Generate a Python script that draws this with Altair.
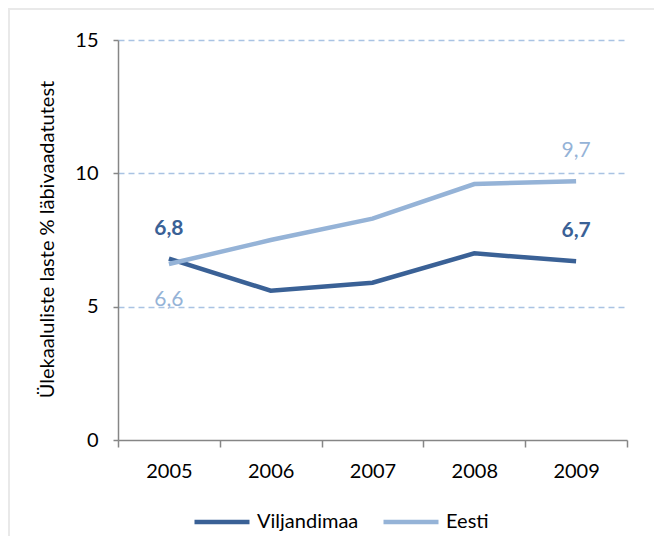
import altair as alt
import pandas as pd

years = ["2005", "2006", "2007", "2008", "2009"]
viljandimaa = [6.8, 5.6, 5.9, 7.0, 6.7]
eesti = [6.6, 7.5, 8.3, 9.6, 9.7]
series_names = ["Viljandimaa", "Eesti"]
series_colors = ["#3A6196", "#95B3D7"]
y_ticks = [0, 5, 10, 15]
y_title = "Ülekaaluliste laste % läbivaadatutest"

FONT = "Lato"

rows = []
for name, vals in zip(series_names, [viljandimaa, eesti]):
    for yr, v in zip(years, vals):
        rows.append({"series": name, "year": yr, "value": v,
                     "label": f"{v:.1f}".replace(".", ",")})
df = pd.DataFrame(rows)

W, H = 509, 400
PAD_L, PAD_T, PAD_R, PAD_B = 110, 32, 27, 96

x_enc = alt.X("year:O", title=None,
              scale=alt.Scale(type="band", paddingInner=0, paddingOuter=0),
              axis=alt.Axis(labelAngle=0, labelFont=FONT, labelFontSize=20,
                            labelColor="#000000", labelPadding=14,
                            domainColor="#868686", domainWidth=1.5,
                            tickColor="#868686", tickWidth=1.5, tickSize=7,
                            tickBand="extent", grid=False, zindex=1))
y_enc = alt.Y("value:Q",
              scale=alt.Scale(domain=[0, 15], nice=False, zero=True),
              axis=alt.Axis(values=y_ticks, title=y_title,
                            titleFont=FONT, titleFontSize=20, titleFontWeight="normal",
                            titleColor="#000000", titleAngle=-90,
                            titleAlign="center", titleBaseline="alphabetic",
                            titleX=-65, titleY=199,
                            labelFont=FONT, labelFontSize=20, labelColor="#000000",
                            labelPadding=15,
                            domainColor="#868686", domainWidth=1.5,
                            tickColor="#868686", tickWidth=1.5, tickSize=5,
                            grid=True, gridColor="#A9C3E3", gridWidth=1.5,
                            gridDash=[6, 4],
                            gridOpacity=alt.condition("datum.value == 0",
                                                      alt.value(0), alt.value(1)),
                            zindex=1))

color_enc = alt.Color("series:N",
                      scale=alt.Scale(domain=series_names, range=series_colors),
                      legend=alt.Legend(title=None, orient="none",
                                        legendX=74, legendY=452,
                                        direction="horizontal", columns=2,
                                        symbolType="stroke", symbolSize=3025,
                                        symbolStrokeWidth=4.5, labelFont=FONT,
                                        labelFontSize=20, labelColor="#000000",
                                        labelOffset=5, columnPadding=15,
                                        padding=0, labelLimit=300))

bg = alt.Chart(pd.DataFrame({"a": [0]})).mark_rect(color="white").encode(
    x=alt.value(-108), x2=alt.value(W + PAD_R),
    y=alt.value(-30), y2=alt.value(H + PAD_B))

lines = alt.Chart(df).mark_line(strokeWidth=4.5).encode(
    x=x_enc, y=y_enc, color=color_enc,
    order=alt.Order("year:O"))

vil_lab = df[(df.series == "Viljandimaa") & (df.year.isin([years[0], years[-1]]))]
ee_first = df[(df.series == "Eesti") & (df.year == years[0])]
ee_last = df[(df.series == "Eesti") & (df.year == years[-1])]

t1 = alt.Chart(vil_lab).mark_text(font=FONT, fontSize=21, fontWeight="bold",
                                  color=series_colors[0], dy=-30).encode(
    x="year:O", y="value:Q", text="label:N")
t2 = alt.Chart(ee_first).mark_text(font=FONT, fontSize=21,
                                   color=series_colors[1], dy=36).encode(
    x="year:O", y="value:Q", text="label:N")
t3 = alt.Chart(ee_last).mark_text(font=FONT, fontSize=21,
                                  color=series_colors[1], dy=-30).encode(
    x="year:O", y="value:Q", text="label:N")

chart = alt.layer(bg, lines, t1, t2, t3).properties(
    width=W, height=H,
    autosize=alt.AutoSizeParams(type="none"),
    padding={"left": PAD_L, "top": PAD_T, "right": PAD_R, "bottom": PAD_B},
).configure(background="#e9e9e9").configure_view(stroke=None)

chart.save("out.html", embed_options={"renderer": "svg", "actions": False})
